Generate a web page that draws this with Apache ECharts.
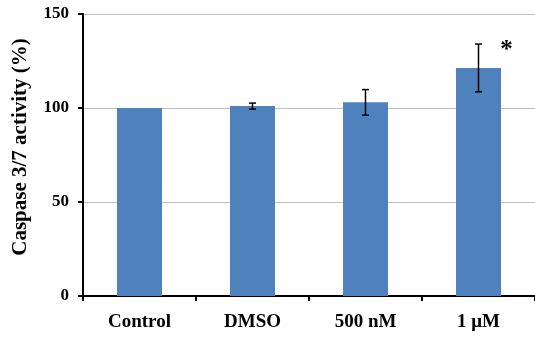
<!DOCTYPE html>
<html>
<head>
<meta charset="utf-8">
<script src="https://cdn.jsdelivr.net/npm/echarts@6/dist/echarts.min.js"></script>
<style>html,body{margin:0;padding:0;background:#fff;}#c{width:535px;height:337px;}</style>
</head>
<body>
<div id="c"></div>
<script>
const categories = ['Control', 'DMSO', '500 nM', '1 \u03bcM'];
const means = [100, 101, 103, 121.3];
const errors = [0, 1.6, 6.8, 12.7];
const marks = ['', '', '', '*'];
const yTicks = [0, 50, 100, 150];

const chart = echarts.init(document.getElementById('c'));
const serif = '"Liberation Serif", "Times New Roman", serif';
chart.setOption({
  animation: false,
  grid: { left: 83, right: -3, top: 14, bottom: 41, containLabel: false },
  xAxis: {
    type: 'category',
    data: categories,
    axisLine: { lineStyle: { color: '#000', width: 2 } },
    axisTick: { show: true, alignWithLabel: false, length: 5, lineStyle: { color: '#000', width: 2 } },
    axisLabel: { color: '#000', fontFamily: serif, fontWeight: 'bold', fontSize: 19, margin: 17 }
  },
  yAxis: {
    type: 'value',
    min: 0, max: 150, interval: 50,
    name: 'Caspase 3/7 activity (%)',
    nameLocation: 'middle',
    nameGap: 52,
    nameTextStyle: { color: '#000', fontFamily: serif, fontWeight: 'bold', fontSize: 21, padding: [0, 0, 0, 16] },
    axisLine: { show: true, lineStyle: { color: '#000', width: 2 } },
    axisTick: { show: true, length: 5, lineStyle: { color: '#000', width: 2 } },
    axisLabel: { color: '#000', fontFamily: serif, fontWeight: 'bold', fontSize: 17, margin: 14,
      formatter: v => yTicks.includes(v) ? String(v) : '' },
    splitLine: { lineStyle: { color: '#c0c0c0', width: 1 } }
  },
  series: [
    {
      type: 'bar',
      data: means,
      barWidth: 45,
      itemStyle: { color: '#4F81BD' }
    },
    {
      type: 'custom',
      data: means.map((m, i) => [i, m - errors[i], m + errors[i], m]),
      z: 10,
      renderItem: function (params, api) {
        const i = api.value(0);
        const lo = api.coord([i, api.value(1)]);
        const hi = api.coord([i, api.value(2)]);
        const children = [];
        if (errors[i] > 0) {
          const hw = 3.5;
          const st = { stroke: '#000', lineWidth: 1.5 };
          children.push({ type: 'line', shape: { x1: hi[0], y1: hi[1], x2: lo[0], y2: lo[1] }, style: st });
          children.push({ type: 'line', shape: { x1: hi[0] - hw, y1: hi[1], x2: hi[0] + hw, y2: hi[1] }, style: st });
          children.push({ type: 'line', shape: { x1: lo[0] - hw, y1: lo[1], x2: lo[0] + hw, y2: lo[1] }, style: st });
        }
        if (marks[i]) {
          children.push({ type: 'text', x: hi[0] + 28, y: hi[1] + 6,
            style: { text: marks[i], fill: '#000', font: 'bold 25px ' + serif, align: 'center', verticalAlign: 'middle' } });
        }
        return { type: 'group', children: children };
      }
    }
  ]
});
</script>
</body>
</html>
